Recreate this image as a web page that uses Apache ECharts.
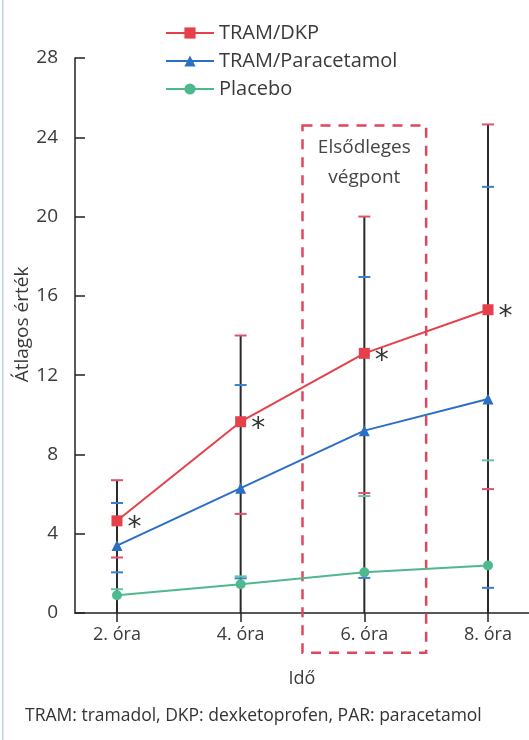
<!DOCTYPE html>
<html>
<head>
<meta charset="utf-8">
<script src="https://cdn.jsdelivr.net/npm/echarts@6/dist/echarts.min.js"></script>
<style>html,body{margin:0;padding:0;background:#fff}#c{width:529px;height:740px}</style>
</head>
<body>
<div id="c"></div>
<script>
// ---- data ----
const hours = [2, 4, 6, 8];
const hourLabels = ['2. óra', '4. óra', '6. óra', '8. óra'];
const seriesNames = ['TRAM/DKP', 'TRAM/Paracetamol', 'Placebo'];
const dkpMean = [4.65, 9.65, 13.1, 15.3];
const dkpLow = [2.8, 5.0, 6.05, 6.25];
const dkpHigh = [6.7, 14.0, 20.0, 24.65];
const parMean = [3.4, 6.3, 9.2, 10.8];
const parLow = [2.05, 1.75, 1.77, 1.27];
const parHigh = [5.55, 11.5, 16.95, 21.5];
const plaMean = [0.9, 1.45, 2.05, 2.4];
const plaHigh = [1.2, 1.85, 5.9, 7.7];
const yTicks = [0, 4, 8, 12, 16, 20, 24, 28];
const highlightRange = [5, 7];      // hours spanned by the "Elsődleges végpont" box
const highlightY = [-2, 24.6];
const highlightText = 'Elsődleges\nvégpont';
const xTitle = 'Idő';
const yTitle = 'Átlagos érték';
const footnote = 'TRAM: tramadol, DKP: dexketoprofen, PAR: paracetamol';

const FONT = 'Open Sans';
const RED = '#e6404a', BLUE = '#2a6fc4', GREEN = '#4fb98e';
const RED_CAP = '#e0506a', BLUE_CAP = '#3a80d0', GREEN_CAP = '#6cc3a0';

const errRows = hours.map((h, i) => [h, dkpLow[i], dkpHigh[i], parLow[i], parHigh[i], plaHigh[i]]);

const chart = echarts.init(document.getElementById('c'), null, {renderer: 'canvas'});
chart.setOption({
  animation: false,
  backgroundColor: '#fff',
  textStyle: {fontFamily: FONT},
  grid: {left: 75, right: 0, top: 58, bottom: 127, containLabel: false, outerBoundsMode: 'none'},
  legend: {
    orient: 'vertical', left: 160, top: 18,
    itemWidth: 48, itemHeight: 14, itemGap: 8,
    data: seriesNames,
    textStyle: {fontFamily: FONT, fontSize: 20, lineHeight: 16, color: '#3a3a3a'}
  },
  xAxis: {
    type: 'value', min: 1.321, max: 8.663,
    name: xTitle, nameLocation: 'middle', nameGap: 57,
    nameTextStyle: {fontFamily: FONT, fontSize: 18, color: '#3a3a3a'},
    axisLine: {show: true, lineStyle: {color: '#222', width: 1.5}},
    axisTick: {show: true, customValues: hours, length: 9, lineStyle: {color: '#222', width: 1.5}},
    axisLabel: {customValues: hours, margin: 13, fontFamily: FONT, fontSize: 18, color: '#3a3a3a',
      formatter: v => hourLabels[hours.indexOf(Math.round(v))] || ''},
    splitLine: {show: false}
  },
  yAxis: {
    type: 'value', min: yTicks[0], max: yTicks[yTicks.length - 1], interval: 4,
    name: yTitle, nameLocation: 'middle', nameGap: 43, nameRotate: 90, nameMoveOverlap: false,
    nameTextStyle: {fontFamily: FONT, fontSize: 19, color: '#3a3a3a', padding: [0, 0, 0, 22]},
    axisLine: {show: true, lineStyle: {color: '#222', width: 1.5}},
    axisTick: {show: true, inside: true, length: 10, lineStyle: {color: '#222', width: 1.5}},
    axisLabel: {margin: 17, fontFamily: FONT, fontSize: 19, color: '#3a3a3a'},
    splitLine: {show: false}
  },
  series: [
    {
      type: 'custom', name: 'box', z: 1, silent: true,
      data: [[highlightRange[0], highlightY[0], highlightRange[1], highlightY[1]]],
      clip: false,
      renderItem: (params, api) => {
        const p0 = api.coord([api.value(0), api.value(3)]);
        const p1 = api.coord([api.value(2), api.value(1)]);
        const cx = api.coord([(api.value(0) + api.value(2)) / 2, 0])[0];
        return {type: 'group', children: [
          {type: 'rect', shape: {x: p0[0], y: p0[1], width: p1[0] - p0[0], height: p1[1] - p0[1]},
           style: {fill: null, stroke: '#e2465c', lineWidth: 2.5, lineDash: [10, 8]}},
          {type: 'text', x: cx, y: p0[1] + 7,
           style: {text: highlightText, fontFamily: FONT, fontSize: 19, fill: '#444', align: 'center', verticalAlign: 'top', lineHeight: 30}}
        ]};
      }
    },
    {
      type: 'custom', name: 'err', z: 2, silent: true, clip: false,
      data: errRows,
      renderItem: (params, api) => {
        const h = api.value(0);
        const vals = [api.value(1), api.value(2), api.value(3), api.value(4), api.value(5)];
        const cols = [RED_CAP, RED_CAP, BLUE_CAP, BLUE_CAP, GREEN_CAP];
        const top = api.coord([h, Math.max(...vals)]);
        const bot = api.coord([h, 0]);
        const children = [{type: 'line', shape: {x1: top[0], y1: top[1], x2: bot[0], y2: bot[1]}, style: {stroke: '#2a2a2a', lineWidth: 2}}];
        vals.forEach((v, k) => {
          const p = api.coord([h, v]);
          children.push({type: 'line', shape: {x1: p[0] - 6, y1: p[1], x2: p[0] + 6, y2: p[1]}, style: {stroke: cols[k], lineWidth: 2}});
        });
        return {type: 'group', children};
      }
    },
    {
      name: seriesNames[0], type: 'line', z: 5,
      data: hours.map((h, i) => [h, dkpMean[i]]),
      symbol: 'rect', symbolSize: 11,
      lineStyle: {color: RED, width: 2}, itemStyle: {color: RED},
      label: {show: true, position: 'right', distance: 5, formatter: '*', fontSize: 28, color: '#333', fontFamily: 'DejaVu Sans', offset: [0, 8]}
    },
    {
      name: seriesNames[1], type: 'line', z: 4,
      data: hours.map((h, i) => [h, parMean[i]]),
      symbol: 'triangle', symbolSize: 11,
      lineStyle: {color: BLUE, width: 2}, itemStyle: {color: BLUE}
    },
    {
      name: seriesNames[2], type: 'line', z: 3,
      data: hours.map((h, i) => [h, plaMean[i]]),
      symbol: 'circle', symbolSize: 10,
      lineStyle: {color: GREEN, width: 2}, itemStyle: {color: GREEN}
    }
  ],
  graphic: [
    {type: 'rect', left: 2, top: 0, shape: {width: 1.5, height: 740}, style: {fill: '#b9d3ea'}},
    {type: 'text', left: 25, top: 707, style: {text: footnote, fontFamily: FONT, fontSize: 17.5, fill: '#333'}}
  ]
});
</script>
</body>
</html>
